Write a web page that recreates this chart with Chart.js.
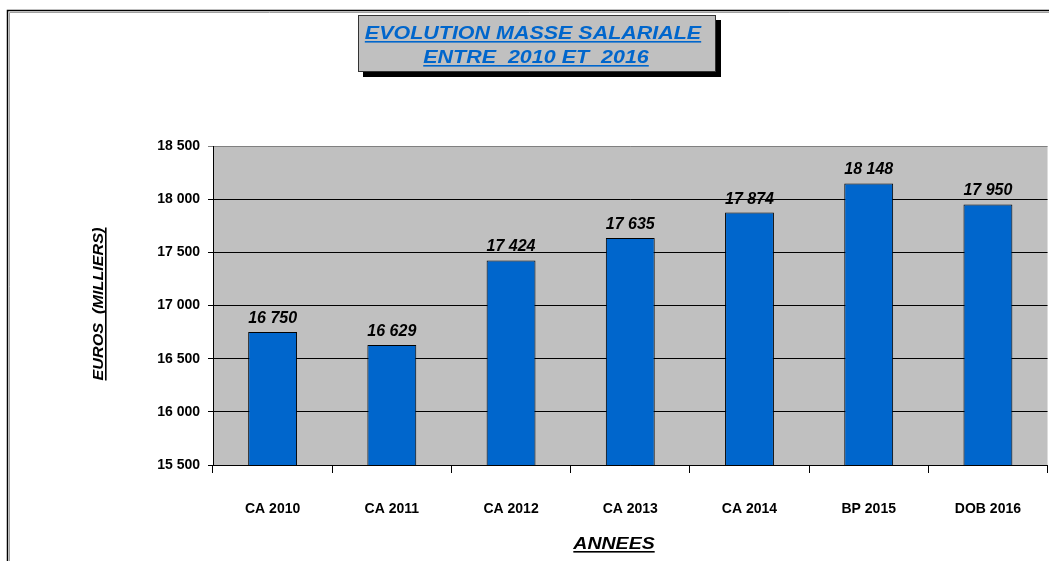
<!DOCTYPE html>
<html>
<head>
<meta charset="utf-8">
<script src="https://cdn.jsdelivr.net/npm/chart.js@4"></script>
<style>
  html, body { margin: 0; background: #fff; overflow: hidden; }
  canvas { display: block; }
</style>
</head>
<body>
<canvas id="masseChart" width="1049" height="561"></canvas>
<script>
// données (milliers d'euros)
const categories = ['CA 2010', 'CA 2011', 'CA 2012', 'CA 2013', 'CA 2014', 'BP 2015', 'DOB 2016'];
const masseSalariale = [16750, 16629, 17424, 17635, 17874, 18148, 17950];
const yMin = 15500;
const yMax = 18500;
const yStep = 500;
const titleLines = ['EVOLUTION MASSE SALARIALE', 'ENTRE  2010 ET  2016'];
const yTitle = 'EUROS  (MILLIERS)';
const xTitle = 'ANNEES';

const FONT = '"Liberation Sans", Arial, sans-serif';
const fmt = v => String(v).replace(/\B(?=(\d{3})+(?!\d))/g, ' ');

// texte centré, étiré horizontalement (sx), souligné en option
function drawText(ctx, text, x, y, font, sx, color, underline) {
    ctx.save();
    ctx.font = font;
    ctx.fillStyle = color;
    ctx.translate(x, y);
    ctx.scale(sx, 1);
    ctx.textAlign = 'center';
    ctx.textBaseline = 'alphabetic';
    ctx.fillText(text, 0, 0);
    if (underline) {
        const w = ctx.measureText(text).width;
        ctx.fillRect(-w / 2, 2, w, 1.6);
    }
    ctx.restore();
}

const decor = {
    id: 'decor',
    beforeDraw(chart) {
        const { ctx, chartArea: a, width, height } = chart;
        ctx.save();
        ctx.fillStyle = '#fff';
        ctx.fillRect(0, 0, width, height);
        // cadre du graphique
        ctx.strokeStyle = '#a0a0a0';
        ctx.lineWidth = 1;
        ctx.beginPath();
        ctx.moveTo(9.5, height); ctx.lineTo(9.5, 12.5); ctx.lineTo(width, 12.5);
        ctx.stroke();
        ctx.strokeStyle = '#000';
        ctx.lineWidth = 1.5;
        ctx.beginPath();
        ctx.moveTo(7.5, height); ctx.lineTo(7.5, 10.5); ctx.lineTo(width, 10.5);
        ctx.stroke();
        // fond de la zone de traçage
        ctx.fillStyle = '#c0c0c0';
        ctx.fillRect(a.left, a.top, a.right - a.left, a.bottom - a.top);
        ctx.restore();
    },
    afterDatasetsDraw(chart) {
        const { ctx } = chart;
        chart.getDatasetMeta(0).data.forEach((bar, i) => {
            drawText(ctx, fmt(masseSalariale[i]), bar.x, bar.y - 9,
                'italic bold 16px ' + FONT, 1, '#000', false);
        });
    },
    afterDraw(chart) {
        const { ctx } = chart;
        ctx.save();
        // boîte de titre avec ombre
        ctx.fillStyle = '#000';
        ctx.fillRect(363, 20, 358, 57);
        ctx.fillStyle = '#c0c0c0';
        ctx.fillRect(358, 15, 358, 57);
        ctx.strokeStyle = '#333';
        ctx.lineWidth = 1;
        ctx.strokeRect(358.5, 15.5, 357, 56);
        ctx.restore();
        drawText(ctx, titleLines[0], 533, 39, 'italic bold 19px ' + FONT, 1.13, '#0066cc', true);
        drawText(ctx, titleLines[1], 536, 63, 'italic bold 19px ' + FONT, 1.13, '#0066cc', true);

        // titre axe Y (vertical)
        ctx.save();
        ctx.translate(103, 304);
        ctx.rotate(-Math.PI / 2);
        drawText(ctx, yTitle, 0, 0, 'italic bold 15px ' + FONT, 1.08, '#000', true);
        ctx.restore();

        // titre axe X
        drawText(ctx, xTitle, 614, 549, 'italic bold 16px ' + FONT, 1.22, '#000', true);
    }
};

new Chart(document.getElementById('masseChart').getContext('2d'), {
    type: 'bar',
    data: {
        labels: categories,
        datasets: [{
            data: masseSalariale,
            backgroundColor: '#0066cc',
            borderColor: '#000',
            borderWidth: 1,
            borderSkipped: 'bottom',
            categoryPercentage: 1,
            barPercentage: 0.41
        }]
    },
    options: {
        responsive: false,
        animation: false,
        devicePixelRatio: 1,
        layout: { padding: { top: 146, left: 0, right: 0, bottom: 0 } },
        plugins: {
            legend: { display: false },
            title: { display: false },
            tooltip: { enabled: false }
        },
        scales: {
            x: {
                offset: true,
                afterFit: s => { s.height = 96; },
                grid: {
                    offset: true,
                    drawOnChartArea: false,
                    drawTicks: true,
                    tickLength: 8,
                    color: '#000'
                },
                border: { display: true, color: '#000', width: 1 },
                ticks: {
                    color: '#000',
                    padding: 28,
                    maxRotation: 0,
                    font: { family: FONT, size: 14, weight: 'bold' }
                }
            },
            y: {
                min: yMin,
                max: yMax,
                afterFit: s => { s.width = 213; },
                grid: {
                    color: c => (c.tick && c.tick.value === yMax ? '#808080' : '#000'),
                    lineWidth: 1,
                    drawTicks: true,
                    tickLength: 5
                },
                border: { display: true, color: '#000', width: 1 },
                ticks: {
                    stepSize: yStep,
                    color: '#000',
                    padding: 8,
                    callback: v => fmt(v),
                    font: { family: FONT, size: 14, weight: 'bold' }
                }
            }
        }
    },
    plugins: [decor]
});
</script>
</body>
</html>
